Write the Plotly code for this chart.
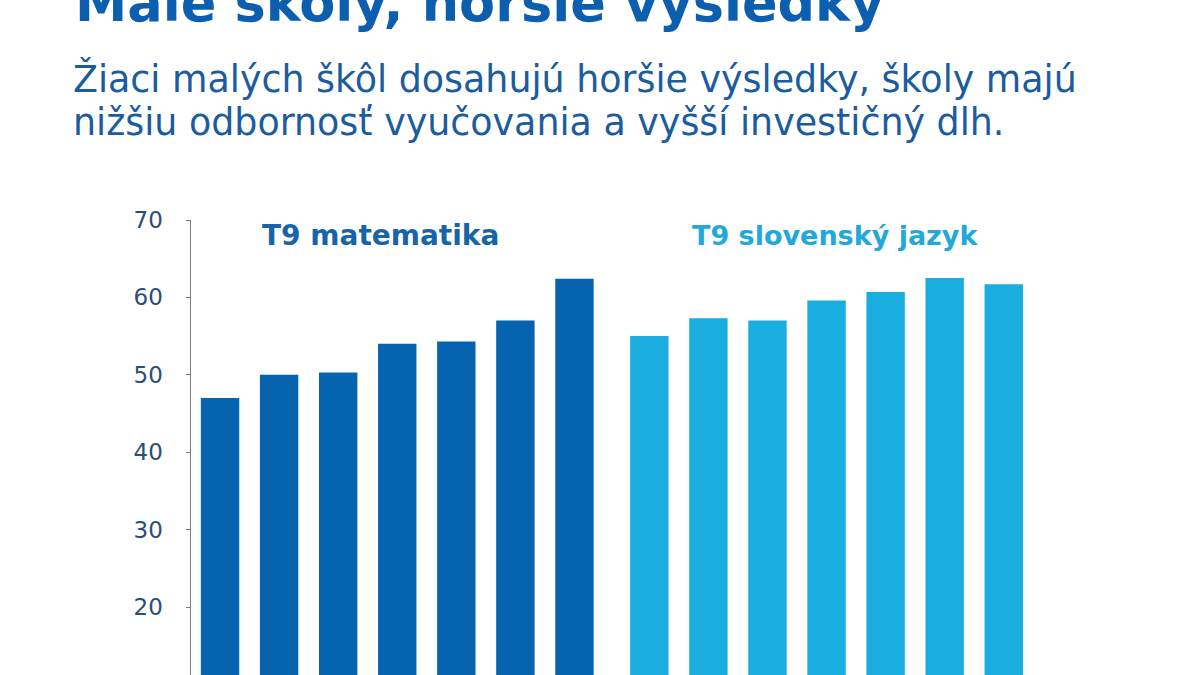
import plotly.graph_objects as go

# ---- data ----
categories = ["1", "2", "3", "4", "5", "6", "7"]
math_values = [47.0, 50.0, 50.3, 54.0, 54.3, 57.0, 62.4]
slovak_values = [55.0, 57.3, 57.0, 59.6, 60.7, 62.5, 61.7]
y_ticks = [10, 20, 30, 40, 50, 60, 70]

title_text = "Malé školy, horšie výsledky"
subtitle_line1 = "Žiaci malých škôl dosahujú horšie výsledky, školy majú"
subtitle_line2 = "nižšiu odbornosť vyučovania a vyšší investičný dlh."
math_label = "T9 matematika"
slovak_label = "T9 slovenský jazyk"

# ---- layout constants ----
W, H = 1200, 675
TOP = 220  # pixel of plot top (value 70)
BOTTOM = 675

def px_x(px):
    return px / W

def px_y(px):
    return (BOTTOM - px) / (BOTTOM - TOP)

MATH_COLOR = "#0563b0"
SLOVAK_COLOR = "#1aade0"
FONT = "DejaVu Sans"

fig = go.Figure()
fig.add_trace(go.Bar(x=categories, y=math_values, marker_color=MATH_COLOR,
                     marker_line_width=0, xaxis="x", yaxis="y", showlegend=False))
fig.add_trace(go.Bar(x=categories, y=slovak_values, marker_color=SLOVAK_COLOR,
                     marker_line_width=0, xaxis="x2", yaxis="y", showlegend=False))

fig.update_layout(
    width=W, height=H,
    margin=dict(l=0, r=0, t=TOP, b=0),
    paper_bgcolor="white", plot_bgcolor="white",
    bargap=0.35,
    xaxis=dict(domain=[190.5 / W, 604 / W], visible=False, anchor="y"),
    xaxis2=dict(domain=[619.8 / W, 1033.3 / W], visible=False, anchor="y"),
    yaxis=dict(range=[70 - (BOTTOM - TOP) / 7.74, 70], tickvals=y_ticks,
               showgrid=False, zeroline=False, showline=True, linecolor="#7a7a7a",
               linewidth=1, ticks="outside", ticklen=4, tickcolor="#7a7a7a",
               tickfont=dict(family=FONT, size=23, color="#2b4f74"),
               ticklabelstandoff=18, anchor="x"),
    font=dict(family=FONT),
)

annos = [
    dict(text=title_text, x=px_x(73), y=px_y(3), xanchor="left", yanchor="middle",
         font=dict(family=FONT, size=52.5, color="#0b5fae", weight="bold")),
    dict(text=subtitle_line1, x=px_x(71), y=px_y(79), xanchor="left", yanchor="middle",
         font=dict(family=FONT, size=36.4, color="#1b5c9f")),
    dict(text=subtitle_line2, x=px_x(71), y=px_y(122), xanchor="left", yanchor="middle",
         font=dict(family=FONT, size=36.4, color="#1b5c9f")),
    dict(text=math_label, x=px_x(380), y=px_y(235), xanchor="center", yanchor="middle",
         font=dict(family=FONT, size=28, color="#1764a8", weight="bold")),
    dict(text=slovak_label, x=px_x(835), y=px_y(235), xanchor="center", yanchor="middle",
         font=dict(family=FONT, size=27, color="#22a8da", weight="bold")),
]
for a in annos:
    fig.add_annotation(xref="paper", yref="paper", showarrow=False, **a)

fig.write_html("out.html",
               config={"displayModeBar": False},
               post_script="document.body.style.margin='0';document.body.style.overflow='hidden';")
